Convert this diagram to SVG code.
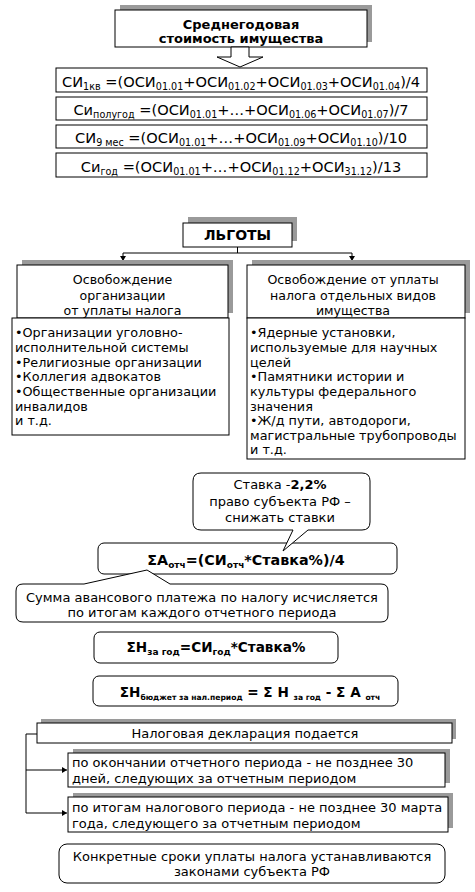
<svg xmlns="http://www.w3.org/2000/svg" width="475" height="892" viewBox="0 0 475 892">
<style>
.bx{fill:#fff;stroke:#000;stroke-width:1}
.sh{fill:#9a9a9a}
.ln{fill:none;stroke:#000;stroke-width:1}
text{font-family:"DejaVu Sans",Verdana,sans-serif;fill:#000}
.f{font-size:14.6px}
.h{font-size:12.6px}
.l{font-size:12.8px}
.m{font-size:13px}
.b{font-weight:bold}
.c{text-anchor:middle}
.s{font-size:9.6px}
.s2{font-size:9px}
.s3{font-size:7.6px}
</style>
<defs>
<marker id="ar" markerWidth="6" markerHeight="6" refX="5" refY="3" orient="auto" markerUnits="userSpaceOnUse">
<path d="M0,0 L5,3 L0,6 Z" fill="#000"/>
</marker>
</defs>
<rect width="475" height="892" fill="#fff"/>

<g id="title">
<rect class="sh" x="120" y="5" width="252" height="37"/>
<rect class="bx" x="115" y="10" width="252" height="37"/>
<text class="m b c" x="241" y="29">Среднегодовая</text>
<text class="m b c" x="241" y="43">стоимость имущества</text>
</g>

<g id="connectors">
<polygon class="bx" points="231,47 231,57 217,57 240,67 263,57 249,57 249,47"/>
<path class="ln" d="M237.5,247 V253 M123,253 H352"/>
<path class="ln" d="M123,253 V261" marker-end="url(#ar)"/>
<path class="ln" d="M352,253 V261" marker-end="url(#ar)"/>
<path class="ln" d="M37,734 H26 V813"/>
<path class="ln" d="M26,770 H67" marker-end="url(#ar)"/>
<path class="ln" d="M26,813 H67" marker-end="url(#ar)"/>
</g>

<g id="f1">
<rect class="bx" x="56" y="68" width="371" height="24"/>
<text class="f c" x="241" y="87">СИ<tspan class="s" dy="3">1кв</tspan><tspan dy="-3"> =(ОСИ</tspan><tspan class="s" dy="3">01.01</tspan><tspan dy="-3">+ОСИ</tspan><tspan class="s" dy="3">01.02</tspan><tspan dy="-3">+ОСИ</tspan><tspan class="s" dy="3">01.03</tspan><tspan dy="-3">+ОСИ</tspan><tspan class="s" dy="3">01.04</tspan><tspan dy="-3">)/4</tspan></text>
</g>
<g id="f2">
<rect class="bx" x="56" y="97" width="371" height="23"/>
<text class="f c" x="241" y="115">Си<tspan class="s" dy="3">полугод</tspan><tspan dy="-3"> =(ОСИ</tspan><tspan class="s" dy="3">01.01</tspan><tspan dy="-3">+…+ОСИ</tspan><tspan class="s" dy="3">01.06</tspan><tspan dy="-3">+ОСИ</tspan><tspan class="s" dy="3">01.07</tspan><tspan dy="-3">)/7</tspan></text>
</g>
<g id="f3">
<rect class="bx" x="56" y="125" width="371" height="23"/>
<text class="f c" x="241" y="143">СИ<tspan class="s" dy="3">9 мес</tspan><tspan dy="-3"> =(ОСИ</tspan><tspan class="s" dy="3">01.01</tspan><tspan dy="-3">+…+ОСИ</tspan><tspan class="s" dy="3">01.09</tspan><tspan dy="-3">+ОСИ</tspan><tspan class="s" dy="3">01.10</tspan><tspan dy="-3">)/10</tspan></text>
</g>
<g id="f4">
<rect class="bx" x="56" y="153" width="371" height="24"/>
<text class="f c" x="241" y="172">Си<tspan class="s" dy="3">год</tspan><tspan dy="-3"> =(ОСИ</tspan><tspan class="s" dy="3">01.01</tspan><tspan dy="-3">+…+ОСИ</tspan><tspan class="s" dy="3">01.12</tspan><tspan dy="-3">+ОСИ</tspan><tspan class="s" dy="3">31.12</tspan><tspan dy="-3">)/13</tspan></text>
</g>

<g id="lgoty">
<rect class="sh" x="188" y="217" width="109" height="24"/>
<rect class="bx" x="183" y="223" width="109" height="24"/>
<text class="b c" x="237.5" y="240" style="font-size:14px">ЛЬГОТЫ</text>
</g>

<g id="left-head">
<rect class="sh" x="22" y="260" width="211" height="53"/>
<rect class="bx" x="17" y="265" width="211" height="53"/>
<text class="h c" x="122.5" y="284">Освобождение</text>
<text class="h c" x="122.5" y="300">организации</text>
<text class="h c" x="122.5" y="315">от уплаты налога</text>
</g>
<g id="left-list">
<rect class="bx" x="12" y="318" width="217" height="117"/>
<text class="l" x="15" y="337">•Организации уголовно-</text>
<text class="l" x="15" y="352">исполнительной системы</text>
<text class="l" x="15" y="367">•Религиозные организации</text>
<text class="l" x="15" y="381">•Коллегия адвокатов</text>
<text class="l" x="15" y="396">•Общественные организации</text>
<text class="l" x="15" y="411">инвалидов</text>
<text class="l" x="15" y="425">и т.д.</text>
</g>

<g id="right-head">
<rect class="sh" x="252" y="260" width="218" height="53"/>
<rect class="bx" x="247" y="265" width="218" height="53"/>
<text class="h c" x="353" y="284">Освобождение от уплаты</text>
<text class="h c" x="353" y="300">налога отдельных видов</text>
<text class="h c" x="353" y="315">имущества</text>
</g>
<g id="right-list">
<rect class="bx" x="247" y="318" width="218" height="141"/>
<text class="l" x="250" y="337">•Ядерные установки,</text>
<text class="l" x="250" y="352">используемые для научных</text>
<text class="l" x="250" y="367">целей</text>
<text class="l" x="250" y="381">•Памятники истории и</text>
<text class="l" x="250" y="396">культуры федерального</text>
<text class="l" x="250" y="411">значения</text>
<text class="l" x="250" y="425">•Ж/д пути, автодороги,</text>
<text class="l" x="250" y="440">магистральные трубопроводы</text>
<text class="l" x="250" y="454">и т.д.</text>
</g>

<g id="sa">
<rect class="bx" x="98" y="543" width="299" height="31" rx="6"/>
<text class="b c" x="246" y="565" style="font-size:14.3px">ΣA<tspan class="s2" dy="3">отч</tspan><tspan dy="-3">=(СИ</tspan><tspan class="s2" dy="3">отч</tspan><tspan dy="-3">*Ставка%)/4</tspan></text>
</g>

<g id="callout-rate">
<path class="bx" d="M201,473 H362 Q370,473 370,481 V522 Q370,530 362,530 H308 L283,551 L293,530 H201 Q193,530 193,522 V481 Q193,473 201,473 Z"/>
<text class="m c" x="280" y="489">Ставка -<tspan class="b">2,2%</tspan></text>
<text class="m c" x="280" y="506">право субъекта РФ –</text>
<text class="m c" x="280" y="522">снижать ставки</text>
</g>

<g id="callout-sum">
<path class="bx" d="M23,584 H84 L147,570 L170,584 H381 Q388,584 388,591 V615 Q388,622 381,622 H23 Q16,622 16,615 V591 Q16,584 23,584 Z"/>
<text class="m c" x="202" y="602">Сумма авансового платежа по налогу исчисляется</text>
<text class="m c" x="202" y="617">по итогам каждого отчетного периода</text>
</g>

<g id="sh-year">
<rect class="bx" x="94" y="632" width="244" height="31" rx="6"/>
<text class="b c" x="216" y="652" style="font-size:13.6px">ΣН<tspan class="s2" dy="3">за год</tspan><tspan dy="-3">=СИ</tspan><tspan class="s2" dy="3">год</tspan><tspan dy="-3">*Ставка%</tspan></text>
</g>

<g id="sh-budget">
<rect class="bx" x="93" y="676" width="305" height="30" rx="6"/>
<text class="b c" x="250" y="697" style="font-size:13.6px">ΣН<tspan class="s3" dy="3">бюджет за нал.период</tspan><tspan dy="-3"> = Σ Н </tspan><tspan class="s3" dy="3">за год</tspan><tspan dy="-3"> - Σ А </tspan><tspan class="s3" dy="3">отч</tspan></text>
</g>

<g id="decl">
<rect class="sh" x="41" y="719" width="415" height="20"/>
<rect class="bx" x="37" y="723" width="415" height="20"/>
<text class="m c" x="245" y="738">Налоговая декларация подается</text>
</g>
<g id="decl-1">
<rect class="sh" x="73" y="749" width="377" height="34"/>
<rect class="bx" x="68" y="753" width="377" height="34"/>
<text class="m" x="72" y="767">по окончании отчетного периода - не позднее 30</text>
<text class="m" x="72" y="783">дней, следующих за отчетным периодом</text>
</g>
<g id="decl-2">
<rect class="sh" x="73" y="793" width="380" height="35"/>
<rect class="bx" x="68" y="797" width="380" height="35"/>
<text class="m" x="72" y="812">по итогам налогового периода - не позднее 30 марта</text>
<text class="m" x="72" y="828">года, следующего за отчетным периодом</text>
</g>

<g id="terms">
<rect class="bx" x="59" y="844" width="386" height="39" rx="8"/>
<text class="m c" x="252" y="861">Конкретные сроки уплаты налога устанавливаются</text>
<text class="m c" x="252" y="876">законами субъекта РФ</text>
</g>
</svg>
